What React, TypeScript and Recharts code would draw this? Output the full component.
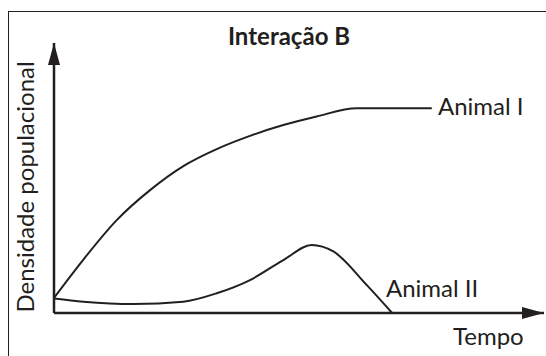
import { LineChart, Line, XAxis, YAxis, ReferenceDot, ReferenceLine } from "recharts";

// tempo (0-100) and densidade (0-100)
const animalI = [
  { t: 0, v: 5.6 },
  { t: 6.0, v: 19.8 },
  { t: 12.8, v: 34.4 },
  { t: 19.6, v: 45.5 },
  { t: 26.4, v: 54.4 },
  { t: 33.2, v: 60.7 },
  { t: 40.0, v: 65.6 },
  { t: 46.8, v: 69.6 },
  { t: 53.6, v: 72.8 },
  { t: 61.8, v: 75.8 },
  { t: 77.1, v: 75.8 },
];

const animalII = [
  { t: 0, v: 5.4 },
  { t: 6.0, v: 4.2 },
  { t: 16.2, v: 3.3 },
  { t: 26.4, v: 4.2 },
  { t: 33.2, v: 7.3 },
  { t: 40.0, v: 12.2 },
  { t: 46.8, v: 19.6 },
  { t: 52.6, v: 25.2 },
  { t: 57.0, v: 22.8 },
  { t: 63.8, v: 10.4 },
  { t: 69.0, v: 0 },
];

const title = "Interação B";
const xLabel = "Tempo";
const yLabel = "Densidade populacional";
const seriesNames = ["Animal I", "Animal II"];

const INK = "#231f20";
const FONT = "Lato, 'Open Sans', sans-serif";

const ArrowUp = (props: any) => {
  const { cx, cy } = props;
  return <path d={`M${cx},${cy} L${cx - 6},${cy + 22} L${cx + 6},${cy + 22} Z`} fill={INK} />;
};

const ArrowRight = (props: any) => {
  const { cx, cy } = props;
  return <path d={`M${cx},${cy} L${cx - 22},${cy - 6} L${cx - 22},${cy + 6} Z`} fill={INK} />;
};

export default function App() {
  return (
    <div
      style={{
        position: "absolute",
        left: 0,
        top: 0,
        width: 546,
        height: 356,
        overflow: "hidden",
        background: "#fff",
        fontFamily: FONT,
      }}
    >
      <div
        style={{
          position: "absolute",
          left: 8,
          top: 11,
          width: 600,
          height: 400,
          border: `1.5px solid ${INK}`,
        }}
      />
      <LineChart
        width={546}
        height={356}
        margin={{ top: 43, right: 2, bottom: 43, left: 54 }}
        style={{ position: "absolute", left: 0, top: 0 }}
      >
        <XAxis type="number" dataKey="t" domain={[0, 100]} allowDataOverflow height={0} hide />
        <YAxis type="number" domain={[0, 100]} allowDataOverflow width={0} hide />
        <ReferenceLine x={0} stroke={INK} strokeWidth={2.5} ifOverflow="visible" />
        <ReferenceLine y={0} stroke={INK} strokeWidth={2.5} ifOverflow="visible" />
        <Line
          data={animalI}
          dataKey="v"
          name={seriesNames[0]}
          type="monotone"
          stroke={INK}
          strokeWidth={2}
          dot={false}
          activeDot={false}
          isAnimationActive={false}
        />
        <Line
          data={animalII}
          dataKey="v"
          name={seriesNames[1]}
          type="monotone"
          stroke={INK}
          strokeWidth={2}
          dot={false}
          activeDot={false}
          isAnimationActive={false}
        />
        <ReferenceDot x={0} y={100} r={0} ifOverflow="visible" shape={ArrowUp} />
        <ReferenceDot x={100} y={0} r={0} ifOverflow="visible" shape={ArrowRight} />
      </LineChart>
      <svg
        width={546}
        height={356}
        style={{ position: "absolute", left: 0, top: 0, pointerEvents: "none" }}
      >
        <g fontFamily={FONT} fill={INK} fontSize={24}>
          <text x={289} y={45} textAnchor="middle" fontWeight="bold">
            {title}
          </text>
          <text x={438} y={115}>{seriesNames[0]}</text>
          <text x={386} y={297}>{seriesNames[1]}</text>
          <text x={453} y={345}>{xLabel}</text>
          <text transform="translate(34,187) rotate(-90)" textAnchor="middle">
            {yLabel}
          </text>
        </g>
      </svg>
    </div>
  );
}
